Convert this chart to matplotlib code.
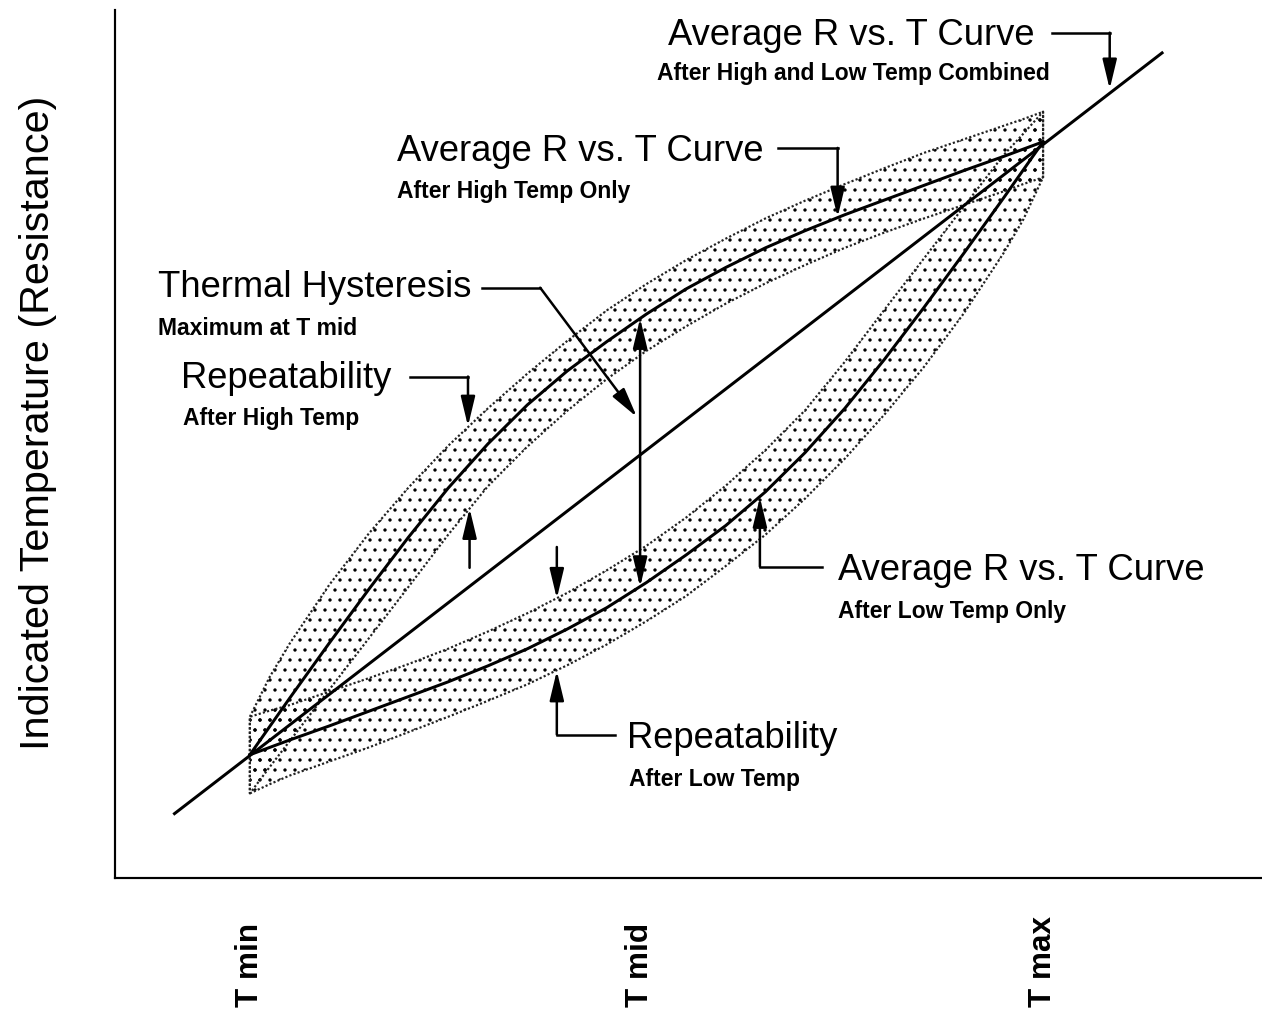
import matplotlib.pyplot as plt

plt.rcParams['font.family'] = ['Liberation Sans', 'DejaVu Sans']
plt.rcParams['hatch.linewidth'] = 0.8

# T axis and indicated temperature both in % of span (T min = 0, T max = 100)
t_grid = [0, 5, 10, 15, 20, 25, 30, 35, 40, 45, 50,
          55, 60, 65, 70, 75, 80, 85, 90, 95, 100]
r_high = [0, 9.2, 18.2, 27.0, 35.5, 43.5, 50.7, 57.1, 62.6, 67.4, 71.9,
          76.0, 79.5, 82.7, 85.5, 88.1, 90.5, 92.9, 95.3, 97.6, 100]
r_low = [0, 2.4, 4.7, 7.1, 9.5, 11.9, 14.5, 17.3, 20.5, 24.0, 28.1,
         32.6, 37.4, 42.9, 49.3, 56.5, 64.5, 73.0, 81.8, 90.8, 100]

# combined average (straight line)
t_line = [-9.5, 115.0]
r_line = [-9.6, 114.5]

# repeatability bands (edges)
band_t = [0, 2.5, 5, 10, 15, 20, 25, 30, 35, 40, 45, 50,
          55, 60, 65, 70, 75, 80, 85, 90, 95, 97.5, 100]
high_outer = [6.2, 12.7, 18.1, 27.7, 36.1, 43.6, 50.4, 56.5, 62.2, 67.5, 72.5, 76.8,
              80.7, 84.2, 87.5, 90.4, 93.1, 95.7, 98.2, 100.4, 102.6, 103.7, 104.9]
high_inner = [-6.3, -2.0, 2.2, 10.6, 19.0, 27.4, 35.9, 43.8, 50.3, 56.1, 61.3, 65.9,
              69.9, 73.6, 76.9, 79.9, 82.7, 85.2, 87.5, 89.7, 91.9, 93.1, 94.2]
low_outer = [-6.3, -4.8, -3.4, -1.1, 1.2, 3.7, 6.2, 8.8, 11.5, 14.6, 18.0, 21.8,
             25.9, 30.8, 35.9, 41.8, 48.3, 55.5, 63.3, 72.0, 81.8, 87.3, 94.2]
low_inner = [6.2, 7.2, 8.1, 10.3, 12.5, 14.8, 17.3, 20.1, 23.1, 26.4, 30.1, 34.1,
             38.7, 43.9, 49.7, 56.2, 64.1, 72.6, 81.0, 89.4, 97.8, 101.3, 104.9]

t_ticks = [0, 49.2, 100]
t_labels = ["T min", "T mid", "T max"]

# callouts: title, title pos, subtitle, subtitle pos, leader path, arrow tip
callouts = [
    ("Average R vs. T Curve", (52.7, 115.8), "After High and Low Temp Combined", (51.3, 110.1),
     [(101.1, 117.8), (108.4, 117.8)], (108.4, 108.6)),
    ("Average R vs. T Curve", (18.5, 96.9), "After High Temp Only", (18.5, 90.9),
     [(66.6, 99.0), (74.1, 99.0)], (74.1, 87.7)),
    ("Thermal Hysteresis", (-11.6, 74.6), "Maximum at T mid", (-11.6, 68.5),
     [(29.3, 76.2), (36.6, 76.2)], (48.8, 55.1)),
    ("Repeatability", (-8.7, 59.9), "After High Temp", (-8.4, 53.8),
     [(20.2, 61.7), (27.5, 61.7)], (27.5, 53.6)),
    ("Average R vs. T Curve", (74.1, 28.5), "After Low Temp Only", (74.1, 22.3),
     [(72.1, 30.7), (64.3, 30.7)], (64.3, 42.0)),
    ("Repeatability", (47.5, 1.1), "After Low Temp", (47.8, -5.1),
     [(46.0, 3.3), (38.7, 3.3)], (38.7, 13.7)),
]
# plain arrows: start, tip, style
extra_arrows = [
    ((27.7, 30.5), (27.7, 40.2), '-|>'),
    ((38.7, 33.9), (38.7, 25.5), '-|>'),
    ((49.2, 27.4), (49.2, 71.2), '<|-|>'),
]


def arrow(ax, start, tip, style='-|>'):
    ax.annotate('', xy=tip, xytext=start, zorder=5,
                arrowprops=dict(arrowstyle=f'{style},head_length=1.5,head_width=0.36',
                                lw=1.5, color='black', shrinkA=0, shrinkB=0,
                                mutation_scale=10))


fig = plt.figure(figsize=(1262 / 120, 1009 / 120), dpi=120)
ax = fig.add_axes([115 / 1262, 131 / 1009, 1147 / 1262, 868 / 1009])
ax.set_xlim(-17.0, 127.6)
ax.set_ylim(-20.1, 121.5)
for s in ['top', 'right']:
    ax.spines[s].set_visible(False)
for s in ['left', 'bottom']:
    ax.spines[s].set_linewidth(1.3)
ax.set_xticks([])
ax.set_yticks([])

# bands
for outer, inner in [(high_outer, high_inner), (low_outer, low_inner)]:
    px = band_t + band_t[::-1]
    py = outer + inner[::-1]
    ax.fill(px, py, facecolor='none', edgecolor='black', hatch='..', lw=0, zorder=1)
    ax.plot(px + [px[0]], py + [py[0]], color='#222222', lw=1.3,
            linestyle=(0, (1.0, 1.0)), zorder=2)

# curves
ax.plot(t_line, r_line, color='black', lw=1.8, zorder=3)
ax.plot(t_grid, r_high, color='black', lw=1.8, zorder=3)
ax.plot(t_grid, r_low, color='black', lw=1.8, zorder=3)

# callouts
for title, tpos, sub, spos, path, tip in callouts:
    ax.text(tpos[0], tpos[1], title, fontsize=21.8, va='baseline', ha='left')
    ax.text(spos[0], spos[1], sub, fontsize=13.7, fontweight='bold', va='baseline', ha='left')
    ax.plot([p[0] for p in path], [p[1] for p in path], color='black', lw=1.5,
            solid_capstyle='projecting', zorder=5)
    arrow(ax, path[-1], tip)

for start, tip, style in extra_arrows:
    arrow(ax, start, tip, style)

# axis texts
for t, lab in zip(t_ticks, t_labels):
    ax.text(t, -0.1486, lab, transform=ax.get_xaxis_transform(), rotation=90,
            ha='center', va='bottom', fontsize=18.9, fontweight='bold', clip_on=False)
ax.text(-0.0671, 0.524, "Indicated Temperature (Resistance)", transform=ax.transAxes,
        rotation=90, ha='center', va='center', fontsize=24.8)

fig.savefig('out.png', dpi=120)
